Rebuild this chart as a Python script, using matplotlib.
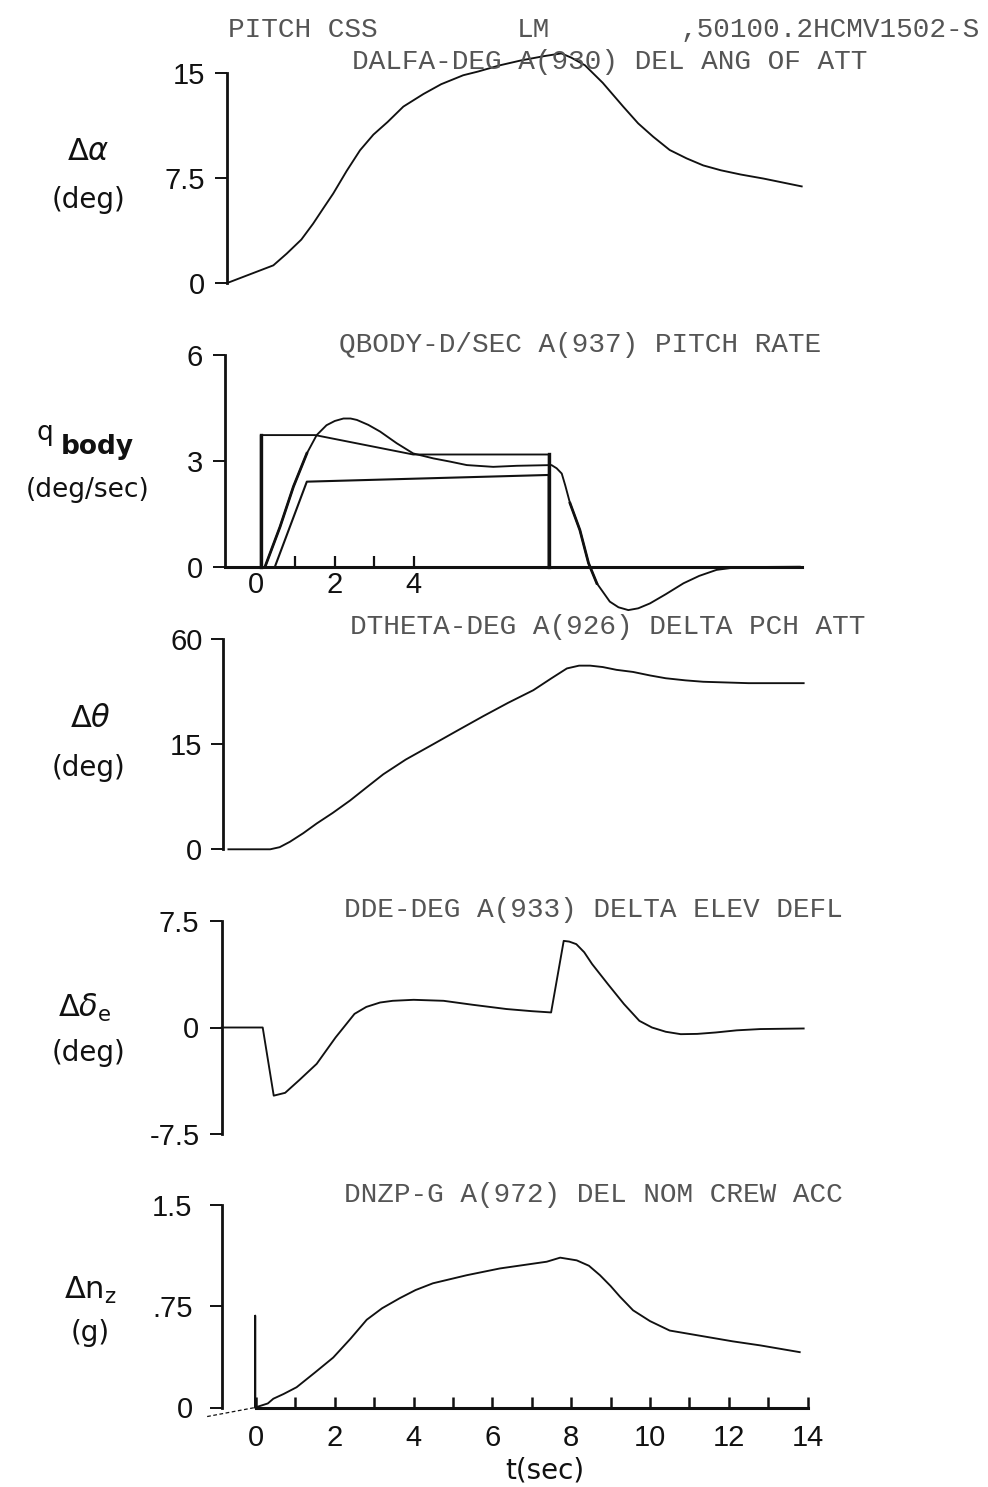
import matplotlib
matplotlib.use("Agg")
import matplotlib.pyplot as plt

plt.rcParams['font.family'] = ['DejaVu Sans']
plt.rcParams['mathtext.fontset'] = 'dejavusans'

# ---- time histories (t in sec) ----
alpha_t = [-0.73, 0.44, 0.78, 1.15, 1.45, 1.7, 1.96, 2.3, 2.64, 2.98, 3.34, 3.74,
           4.25, 4.7, 5.26, 5.63, 6.19, 6.73, 7.3, 7.75, 8.0, 8.35, 8.8, 9.32,
           9.7, 10.08, 10.5, 10.93, 11.35, 11.8, 12.3, 12.88, 13.85]
alpha_deg = [0.0, 1.26, 2.1, 3.1, 4.24, 5.3, 6.39, 8.0, 9.48, 10.6, 11.5, 12.6,
             13.5, 14.2, 14.84, 15.1, 15.55, 15.9, 16.2, 16.4, 16.1, 15.55, 14.3, 12.6,
             11.4, 10.45, 9.5, 8.9, 8.4, 8.05, 7.75, 7.46, 6.9]

# pitch-rate command (step with washout), model response and body response
qcmd_t = [0.12, 0.12, 1.5, 3.99, 7.43, 7.43]
qcmd = [0.0, 3.73, 3.73, 3.18, 3.18, 0.0]
qmodel_t = [0.48, 1.29, 7.43, 7.43]
qmodel = [0.0, 2.41, 2.6, 0.0]
qbody_t = [0.23, 0.61, 0.95, 1.29, 1.54, 1.79, 2.0, 2.22, 2.4, 2.56, 2.85, 3.15,
           3.57, 3.99, 4.5, 4.92, 5.35, 6.02, 6.62, 7.5, 7.63, 7.76, 7.85, 7.97,
           8.22, 8.44, 8.65, 8.98, 9.2, 9.45, 9.7, 10.0, 10.4, 10.85, 11.25, 11.69,
           12.1, 12.54, 13.8]
qbody = [0.0, 1.13, 2.27, 3.21, 3.73, 4.01, 4.13, 4.2, 4.2, 4.16, 4.02, 3.83,
         3.5, 3.21, 3.07, 2.98, 2.88, 2.83, 2.86, 2.88, 2.79, 2.64, 2.3, 1.8,
         1.04, 0.1, -0.47, -0.99, -1.15, -1.23, -1.18, -1.04, -0.78, -0.47, -0.26, -0.09,
         -0.03, -0.01, 0.0]

theta_t = [-0.70, 0.36, 0.6, 0.86, 1.2, 1.54, 1.95, 2.39, 2.8, 3.23, 3.8, 4.5,
           5.1, 5.77, 6.4, 7.04, 7.5, 7.89, 8.2, 8.48, 8.8, 9.15, 9.57, 10.0,
           10.4, 10.9, 11.35, 12.5, 13.9]
theta_deg = [0.0, 0.0, 0.3, 1.07, 2.3, 3.68, 5.2, 6.97, 8.8, 10.7, 12.8, 15.0,
             16.9, 19.0, 20.9, 22.7, 24.4, 25.8, 26.2, 26.2, 26.0, 25.6, 25.3, 24.8,
             24.4, 24.1, 23.9, 23.7, 23.7]

de_t = [-0.87, 0.17, 0.45, 0.74, 1.1, 1.54, 2.02, 2.5, 2.8, 3.15, 3.47, 4.0,
        4.76, 5.5, 6.36, 7.0, 7.49, 7.81, 7.95, 8.13, 8.33, 8.53, 8.93, 9.34,
        9.73, 10.05, 10.4, 10.78, 11.2, 11.67, 12.2, 12.8, 13.9]
de_deg = [0.0, 0.0, -4.8, -4.6, -3.7, -2.56, -0.7, 0.96, 1.45, 1.76, 1.88, 1.95,
          1.88, 1.6, 1.3, 1.15, 1.06, 6.1, 6.05, 5.87, 5.3, 4.47, 3.06, 1.65,
          0.47, 0.0, -0.3, -0.47, -0.45, -0.35, -0.2, -0.11, -0.07]

nz_t = [-1.24, -0.02, -0.02, -0.02, 0.3, 0.44, 0.7, 1.03, 1.5, 1.96, 2.4, 2.81,
        3.2, 3.65, 4.05, 4.49, 5.35, 6.19, 7.38, 7.72, 8.14, 8.45, 8.73, 9.0,
        9.24, 9.57, 10.0, 10.5, 11.0, 11.5, 12.1, 12.8, 13.8]
nz_g = [-0.067, 0.0, 0.68, 0.0, 0.03, 0.065, 0.1, 0.15, 0.26, 0.37, 0.51, 0.65,
        0.735, 0.81, 0.87, 0.92, 0.98, 1.03, 1.08, 1.11, 1.09, 1.05, 0.98, 0.9,
        0.82, 0.72, 0.64, 0.57, 0.545, 0.52, 0.49, 0.46, 0.41]

# ---- axis tick labels ----
alpha_ticks, alpha_labels = [0, 7.5, 15], ['0', '7.5', '15']
q_ticks, q_labels = [0, 3, 6], ['0', '3', '6']
q_xticks, q_xlabels = [0, 1, 2, 3, 4], ['0', '', '2', '', '4']
theta_ticks, theta_labels = [0, 15, 30], ['0', '15', '60']
de_ticks, de_labels = [-7.5, 0, 7.5], ['-7.5', '0', '7.5']
nz_ticks, nz_labels = [0, 0.75, 1.5], ['0', '.75', '1.5']
t_major = [0, 2, 4, 6, 8, 10, 12, 14]
t_minor = [1, 3, 5, 7, 9, 11, 13]

header = ['PITCH CSS', 'LM', ',50100.2HCMV1502-S']
titles = ['DALFA-DEG A(930) DEL ANG OF ATT',
          'QBODY-D/SEC A(937) PITCH RATE',
          'DTHETA-DEG A(926) DELTA PCH ATT',
          'DDE-DEG A(933) DELTA ELEV DEFL',
          'DNZP-G A(972) DEL NOM CREW ACC']

# ---- layout (pixels) ----
W, H = 988, 1487
fig = plt.figure(figsize=(W / 100, H / 100), dpi=100)
T0_PX, PX_PER_S = 256.0, 39.4
AX_L, AX_R = 190.0, 830.0
XLIM = ((AX_L - T0_PX) / PX_PER_S, (AX_R - T0_PX) / PX_PER_S)
INK = '#111111'
LW = 1.35
TICK_FONT = dict(family=['Liberation Sans', 'DejaVu Sans'], size=21)


def make_axes(top, bottom, v_lo, p_lo, v_hi, p_hi, spine_t, ticks, labels, pad):
    ax = fig.add_axes([AX_L / W, 1 - bottom / H, (AX_R - AX_L) / W, (bottom - top) / H])
    s = (p_lo - p_hi) / (v_hi - v_lo)
    ax.set_xlim(*XLIM)
    ax.set_ylim(v_lo - (bottom - p_lo) / s, v_lo + (p_lo - top) / s)
    ax.patch.set_visible(False)
    for sp in ('top', 'right', 'bottom'):
        ax.spines[sp].set_visible(False)
    ax.spines['left'].set_position(('data', spine_t))
    ax.spines['left'].set_bounds(ticks[0], ticks[-1])
    ax.spines['left'].set_linewidth(2.0)
    ax.spines['left'].set_color(INK)
    ax.set_yticks(ticks, labels=labels, fontdict=TICK_FONT)
    ax.tick_params(axis='y', direction='out', length=9, width=1.4, pad=pad,
                   color=INK, labelcolor=INK)
    ax.set_xticks([])
    return ax


def bottom_axis(ax, lo, hi):
    sp = ax.spines['bottom']
    sp.set_visible(True)
    sp.set_position(('data', 0))
    sp.set_bounds(lo, hi)
    sp.set_linewidth(2.2)
    sp.set_color(INK)


def ptext(x, y, s, **kw):
    kw.setdefault('ha', 'center')
    kw.setdefault('va', 'center')
    kw.setdefault('color', INK)
    fig.text(x / W, 1 - y / H, s, **kw)


# panel 1: angle of attack
ax1 = make_axes(40, 300, 0, 283, 15, 73, -0.73, alpha_ticks, alpha_labels, 7)
ax1.plot(alpha_t, alpha_deg, color=INK, lw=LW, clip_on=False)

# panel 2: pitch rate
ax2 = make_axes(330, 620, 0, 566.7, 6, 355, -0.79, q_ticks, q_labels, 7)
bottom_axis(ax2, -0.79, 13.85)
ax2.set_xticks(q_xticks, labels=q_xlabels, fontdict=TICK_FONT)
ax2.tick_params(axis='x', direction='in', length=8, width=1.6, pad=3,
                color=INK, labelcolor=INK)
ax2.xaxis.get_major_ticks()[0].tick1line.set_visible(False)
ax2.plot(qcmd_t, qcmd, color=INK, lw=LW)
ax2.plot(qcmd_t[:2], qcmd[:2], color=INK, lw=2.4)
ax2.plot(qcmd_t[-2:], qcmd[-2:], color=INK, lw=2.4)
ax2.plot(qmodel_t, qmodel, color=INK, lw=1.5)
ax2.plot(qbody_t, qbody, color=INK, lw=LW)
ax2.plot(qbody_t[:4], qbody[:4], color=INK, lw=2.0)
ax2.plot(qbody_t[23:27], qbody[23:27], color=INK, lw=2.0)

# panel 3: pitch attitude
ax3 = make_axes(625, 880, 0, 849.3, 30, 639, -0.83, theta_ticks, theta_labels, 6)
ax3.plot(theta_t, theta_deg, color=INK, lw=LW)

# panel 4: elevator deflection
ax4 = make_axes(895, 1150, -7.5, 1134, 7.5, 921, -0.87, de_ticks, de_labels, 7)
ax4.plot(de_t, de_deg, color=INK, lw=LW)

# panel 5: normal acceleration at crew station
ax5 = make_axes(1180, 1420, 0, 1407.5, 1.5, 1205, -0.87, nz_ticks, nz_labels, 12)
bottom_axis(ax5, 0, 14)
ax5.set_xticks(t_major, labels=[str(v) for v in t_major], fontdict=TICK_FONT)
ax5.set_xticks(t_minor, minor=True)
ax5.tick_params(axis='x', which='both', direction='in', length=8, width=1.8,
                pad=12, color=INK, labelcolor=INK)
ax5.plot(nz_t[:2], nz_g[:2], color=INK, lw=0.9, ls=(0, (3, 2)), clip_on=False)
ax5.plot(nz_t[1:], nz_g[1:], color=INK, lw=LW)
ptext(545, 1470, 't(sec)', fontsize=20)

# y-axis captions
ptext(88, 152, r'$\Delta\alpha$', fontsize=22)
ptext(88, 200, '(deg)', fontsize=20)
ptext(45, 433, 'q', fontsize=19)
ptext(97, 447, 'body', fontsize=19, fontweight='bold')
ptext(88, 490, '(deg/sec)', fontsize=19)
ptext(90, 718, r'$\Delta\theta$', fontsize=22)
ptext(88, 768, '(deg)', fontsize=20)
ptext(85, 1008, r'$\Delta\delta_\mathrm{e}$', fontsize=22)
ptext(88, 1053, '(deg)', fontsize=20)
ptext(90, 1290, r'$\Delta\mathrm{n_z}$', fontsize=22)
ptext(90, 1333, '(g)', fontsize=20)

# plotter annotations
mono = dict(family=['Liberation Mono', 'DejaVu Sans Mono'], fontsize=20, color='#555555')
ptext(303, 30, header[0], **mono)
ptext(533, 30, header[1], **mono)
ptext(830, 30, header[2], **mono)
ptext(610, 62, titles[0], **mono)
ptext(580, 345, titles[1], **mono)
ptext(608, 627, titles[2], **mono)
ptext(593, 910, titles[3], **mono)
ptext(593, 1195, titles[4], **mono)

fig.savefig('out.png', dpi=100, facecolor='white')
